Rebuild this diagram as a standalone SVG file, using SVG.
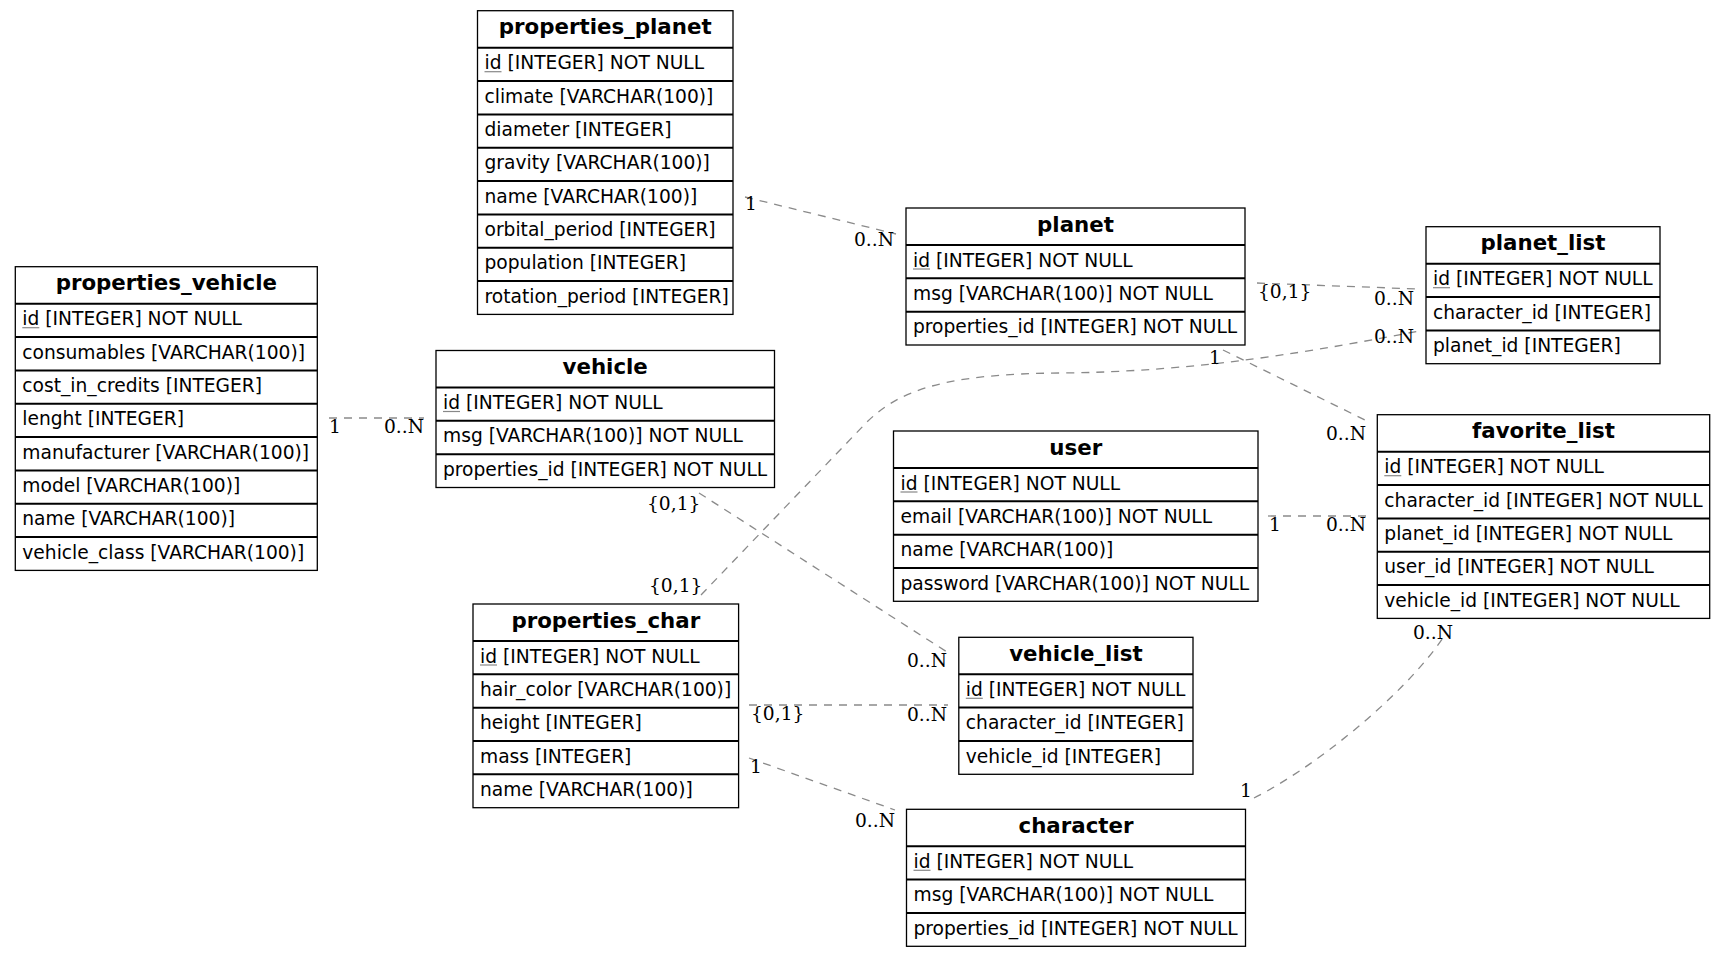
<svg xmlns="http://www.w3.org/2000/svg" width="1725" height="957" viewBox="0 0 1725 957">
<style>
  .box { fill: #ffffff; stroke: #000000; stroke-width: 1.3; }
  .sep { stroke: #000000; stroke-width: 2; }
  .hd { font-family: "DejaVu Sans", sans-serif; font-weight: bold; font-size: 21.33px; text-anchor: middle; fill: #000; }
  .fd { font-family: "DejaVu Sans", sans-serif; font-size: 18.67px; fill: #000; }
  .ul { stroke: #888888; stroke-width: 1.2; }
  .edge { fill: none; stroke: #8a8a8a; stroke-width: 1.3; stroke-dasharray: 8 7; }
  .card { font-family: "DejaVu Serif", serif; font-size: 18.67px; fill: #000; }
</style>
<rect width="1725" height="957" fill="#ffffff"/>

<!-- relationship lines -->
<g id="connectors">
  <path class="edge" d="M329,418 L424,418"/>
  <path class="edge" d="M745,197 L896,234"/>
  <path class="edge" d="M1257,283 L1418,289"/>
  <path class="edge" d="M701,595 L865,424 C900,388 950,374 1060,373 C1200,372 1320,350 1419,331"/>
  <path class="edge" d="M1223,350 L1365,420"/>
  <path class="edge" d="M1268,516 L1368,516"/>
  <path class="edge" d="M1254,798 C1310,770 1400,700 1443,638"/>
  <path class="edge" d="M699,493 L947,652"/>
  <path class="edge" d="M749,705 L948,705"/>
  <path class="edge" d="M749,758 L895,810"/>
</g>

<!-- cardinality labels -->
<g id="cardinalities">
  <text class="card" x="329" y="433">1</text>
  <text class="card" x="384" y="433">0..N</text>
  <text class="card" x="745" y="210">1</text>
  <text class="card" x="854" y="246">0..N</text>
  <text class="card" x="1258" y="298">{0,1}</text>
  <text class="card" x="1374" y="305">0..N</text>
  <text class="card" x="649" y="592">{0,1}</text>
  <text class="card" x="1374" y="343">0..N</text>
  <text class="card" x="1209" y="364">1</text>
  <text class="card" x="1326" y="440">0..N</text>
  <text class="card" x="1269" y="531">1</text>
  <text class="card" x="1326" y="531">0..N</text>
  <text class="card" x="1413" y="639">0..N</text>
  <text class="card" x="1240" y="797">1</text>
  <text class="card" x="647" y="510">{0,1}</text>
  <text class="card" x="907" y="667">0..N</text>
  <text class="card" x="751" y="720">{0,1}</text>
  <text class="card" x="907" y="721">0..N</text>
  <text class="card" x="750" y="773">1</text>
  <text class="card" x="855" y="827">0..N</text>
</g>

<g id="properties_planet">
  <rect class="box" x="477.5" y="10.7" width="255.5" height="303.7"/>
  <line class="sep" x1="477.5" y1="47.7" x2="733" y2="47.7"/>
  <line class="sep" x1="477.5" y1="81" x2="733" y2="81"/>
  <line class="sep" x1="477.5" y1="114.4" x2="733" y2="114.4"/>
  <line class="sep" x1="477.5" y1="147.7" x2="733" y2="147.7"/>
  <line class="sep" x1="477.5" y1="181" x2="733" y2="181"/>
  <line class="sep" x1="477.5" y1="214.4" x2="733" y2="214.4"/>
  <line class="sep" x1="477.5" y1="247.7" x2="733" y2="247.7"/>
  <line class="sep" x1="477.5" y1="281" x2="733" y2="281"/>
  <text class="hd" x="605.2" y="34.2">properties_planet</text>
  <text class="fd" x="484.5" y="69.2">id [INTEGER] NOT NULL</text>
  <line class="ul" x1="484.5" y1="71.7" x2="501.5" y2="71.7"/>
  <text class="fd" x="484.5" y="102.5">climate [VARCHAR(100)]</text>
  <text class="fd" x="484.5" y="135.9">diameter [INTEGER]</text>
  <text class="fd" x="484.5" y="169.2">gravity [VARCHAR(100)]</text>
  <text class="fd" x="484.5" y="202.5">name [VARCHAR(100)]</text>
  <text class="fd" x="484.5" y="235.9">orbital_period [INTEGER]</text>
  <text class="fd" x="484.5" y="269.2">population [INTEGER]</text>
  <text class="fd" x="484.5" y="302.5">rotation_period [INTEGER]</text>
</g>

<g id="properties_vehicle">
  <rect class="box" x="15.3" y="266.7" width="302" height="303.7"/>
  <line class="sep" x1="15.3" y1="303.7" x2="317.3" y2="303.7"/>
  <line class="sep" x1="15.3" y1="337" x2="317.3" y2="337"/>
  <line class="sep" x1="15.3" y1="370.4" x2="317.3" y2="370.4"/>
  <line class="sep" x1="15.3" y1="403.7" x2="317.3" y2="403.7"/>
  <line class="sep" x1="15.3" y1="437" x2="317.3" y2="437"/>
  <line class="sep" x1="15.3" y1="470.4" x2="317.3" y2="470.4"/>
  <line class="sep" x1="15.3" y1="503.7" x2="317.3" y2="503.7"/>
  <line class="sep" x1="15.3" y1="537" x2="317.3" y2="537"/>
  <text class="hd" x="166.3" y="290.2">properties_vehicle</text>
  <text class="fd" x="22.3" y="325.2">id [INTEGER] NOT NULL</text>
  <line class="ul" x1="22.3" y1="327.7" x2="39.3" y2="327.7"/>
  <text class="fd" x="22.3" y="358.5">consumables [VARCHAR(100)]</text>
  <text class="fd" x="22.3" y="391.9">cost_in_credits [INTEGER]</text>
  <text class="fd" x="22.3" y="425.2">lenght [INTEGER]</text>
  <text class="fd" x="22.3" y="458.5">manufacturer [VARCHAR(100)]</text>
  <text class="fd" x="22.3" y="491.9">model [VARCHAR(100)]</text>
  <text class="fd" x="22.3" y="525.2">name [VARCHAR(100)]</text>
  <text class="fd" x="22.3" y="558.5">vehicle_class [VARCHAR(100)]</text>
</g>

<g id="vehicle">
  <rect class="box" x="436" y="350.5" width="338.5" height="137"/>
  <line class="sep" x1="436" y1="387.5" x2="774.5" y2="387.5"/>
  <line class="sep" x1="436" y1="420.8" x2="774.5" y2="420.8"/>
  <line class="sep" x1="436" y1="454.2" x2="774.5" y2="454.2"/>
  <text class="hd" x="605.2" y="374">vehicle</text>
  <text class="fd" x="443" y="409">id [INTEGER] NOT NULL</text>
  <line class="ul" x1="443" y1="411.5" x2="460" y2="411.5"/>
  <text class="fd" x="443" y="442.3">msg [VARCHAR(100)] NOT NULL</text>
  <text class="fd" x="443" y="475.7">properties_id [INTEGER] NOT NULL</text>
</g>

<g id="properties_char">
  <rect class="box" x="473" y="604" width="265.6" height="203.7"/>
  <line class="sep" x1="473" y1="641" x2="738.6" y2="641"/>
  <line class="sep" x1="473" y1="674.3" x2="738.6" y2="674.3"/>
  <line class="sep" x1="473" y1="707.7" x2="738.6" y2="707.7"/>
  <line class="sep" x1="473" y1="741" x2="738.6" y2="741"/>
  <line class="sep" x1="473" y1="774.3" x2="738.6" y2="774.3"/>
  <text class="hd" x="605.8" y="627.5">properties_char</text>
  <text class="fd" x="480" y="662.5">id [INTEGER] NOT NULL</text>
  <line class="ul" x1="480" y1="665" x2="497" y2="665"/>
  <text class="fd" x="480" y="695.8">hair_color [VARCHAR(100)]</text>
  <text class="fd" x="480" y="729.2">height [INTEGER]</text>
  <text class="fd" x="480" y="762.5">mass [INTEGER]</text>
  <text class="fd" x="480" y="795.8">name [VARCHAR(100)]</text>
</g>

<g id="planet">
  <rect class="box" x="906" y="208" width="339" height="137"/>
  <line class="sep" x1="906" y1="245" x2="1245" y2="245"/>
  <line class="sep" x1="906" y1="278.3" x2="1245" y2="278.3"/>
  <line class="sep" x1="906" y1="311.7" x2="1245" y2="311.7"/>
  <text class="hd" x="1075.5" y="231.5">planet</text>
  <text class="fd" x="913" y="266.5">id [INTEGER] NOT NULL</text>
  <line class="ul" x1="913" y1="269" x2="930" y2="269"/>
  <text class="fd" x="913" y="299.8">msg [VARCHAR(100)] NOT NULL</text>
  <text class="fd" x="913" y="333.2">properties_id [INTEGER] NOT NULL</text>
</g>

<g id="planet_list">
  <rect class="box" x="1426" y="226.7" width="234" height="137"/>
  <line class="sep" x1="1426" y1="263.7" x2="1660" y2="263.7"/>
  <line class="sep" x1="1426" y1="297" x2="1660" y2="297"/>
  <line class="sep" x1="1426" y1="330.4" x2="1660" y2="330.4"/>
  <text class="hd" x="1543" y="250.2">planet_list</text>
  <text class="fd" x="1433" y="285.2">id [INTEGER] NOT NULL</text>
  <line class="ul" x1="1433" y1="287.7" x2="1450" y2="287.7"/>
  <text class="fd" x="1433" y="318.5">character_id [INTEGER]</text>
  <text class="fd" x="1433" y="351.9">planet_id [INTEGER]</text>
</g>

<g id="user">
  <rect class="box" x="893.5" y="431" width="364.5" height="170.3"/>
  <line class="sep" x1="893.5" y1="468" x2="1258" y2="468"/>
  <line class="sep" x1="893.5" y1="501.3" x2="1258" y2="501.3"/>
  <line class="sep" x1="893.5" y1="534.7" x2="1258" y2="534.7"/>
  <line class="sep" x1="893.5" y1="568" x2="1258" y2="568"/>
  <text class="hd" x="1075.8" y="454.5">user</text>
  <text class="fd" x="900.5" y="489.5">id [INTEGER] NOT NULL</text>
  <line class="ul" x1="900.5" y1="492" x2="917.5" y2="492"/>
  <text class="fd" x="900.5" y="522.8">email [VARCHAR(100)] NOT NULL</text>
  <text class="fd" x="900.5" y="556.2">name [VARCHAR(100)]</text>
  <text class="fd" x="900.5" y="589.5">password [VARCHAR(100)] NOT NULL</text>
</g>

<g id="favorite_list">
  <rect class="box" x="1377.3" y="414.7" width="332.4" height="203.7"/>
  <line class="sep" x1="1377.3" y1="451.7" x2="1709.7" y2="451.7"/>
  <line class="sep" x1="1377.3" y1="485" x2="1709.7" y2="485"/>
  <line class="sep" x1="1377.3" y1="518.4" x2="1709.7" y2="518.4"/>
  <line class="sep" x1="1377.3" y1="551.7" x2="1709.7" y2="551.7"/>
  <line class="sep" x1="1377.3" y1="585" x2="1709.7" y2="585"/>
  <text class="hd" x="1543.5" y="438.2">favorite_list</text>
  <text class="fd" x="1384.3" y="473.2">id [INTEGER] NOT NULL</text>
  <line class="ul" x1="1384.3" y1="475.7" x2="1401.3" y2="475.7"/>
  <text class="fd" x="1384.3" y="506.5">character_id [INTEGER] NOT NULL</text>
  <text class="fd" x="1384.3" y="539.9">planet_id [INTEGER] NOT NULL</text>
  <text class="fd" x="1384.3" y="573.2">user_id [INTEGER] NOT NULL</text>
  <text class="fd" x="1384.3" y="606.5">vehicle_id [INTEGER] NOT NULL</text>
</g>

<g id="vehicle_list">
  <rect class="box" x="958.8" y="637.3" width="234.2" height="137"/>
  <line class="sep" x1="958.8" y1="674.3" x2="1193" y2="674.3"/>
  <line class="sep" x1="958.8" y1="707.6" x2="1193" y2="707.6"/>
  <line class="sep" x1="958.8" y1="741" x2="1193" y2="741"/>
  <text class="hd" x="1075.9" y="660.8">vehicle_list</text>
  <text class="fd" x="965.8" y="695.8">id [INTEGER] NOT NULL</text>
  <line class="ul" x1="965.8" y1="698.3" x2="982.8" y2="698.3"/>
  <text class="fd" x="965.8" y="729.1">character_id [INTEGER]</text>
  <text class="fd" x="965.8" y="762.5">vehicle_id [INTEGER]</text>
</g>

<g id="character">
  <rect class="box" x="906.5" y="809.3" width="339" height="137"/>
  <line class="sep" x1="906.5" y1="846.3" x2="1245.5" y2="846.3"/>
  <line class="sep" x1="906.5" y1="879.6" x2="1245.5" y2="879.6"/>
  <line class="sep" x1="906.5" y1="913" x2="1245.5" y2="913"/>
  <text class="hd" x="1076" y="832.8">character</text>
  <text class="fd" x="913.5" y="867.8">id [INTEGER] NOT NULL</text>
  <line class="ul" x1="913.5" y1="870.3" x2="930.5" y2="870.3"/>
  <text class="fd" x="913.5" y="901.1">msg [VARCHAR(100)] NOT NULL</text>
  <text class="fd" x="913.5" y="934.5">properties_id [INTEGER] NOT NULL</text>
</g>
</svg>
